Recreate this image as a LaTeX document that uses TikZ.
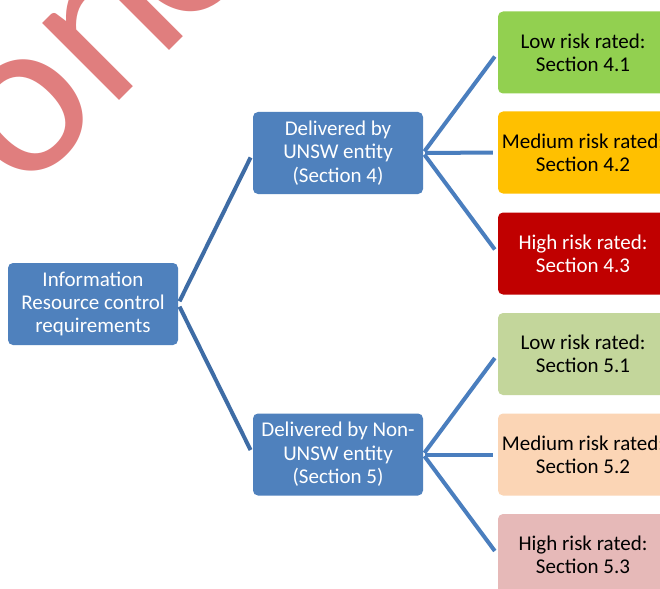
\documentclass[tikz,border=0pt]{standalone}
\usepackage{fontspec}
\setmainfont{Carlito}
\usepackage{tikz}
\usetikzlibrary{positioning}

\definecolor{boxblue}{HTML}{4F81BD}
\definecolor{rootline}{HTML}{3E6CA5}
\definecolor{leafline}{HTML}{4A7EBE}
\definecolor{lowA}{HTML}{92D050}
\definecolor{medA}{HTML}{FFC000}
\definecolor{highA}{HTML}{C00000}
\definecolor{lowB}{HTML}{C3D69B}
\definecolor{medB}{HTML}{FBD5B5}
\definecolor{highB}{HTML}{E6B9B8}
\definecolor{wmark}{HTML}{E07E7E}

\tikzset{
  basebox/.style={rounded corners=5pt, minimum width=170pt, minimum height=82pt,
    inner sep=0pt, align=center, font=\fontsize{21}{23.4}\selectfont},
  mainbox/.style={basebox, fill=boxblue, text=white},
  riskbox/.style={basebox},
  rootlink/.style={rootline, line width=4pt, shorten <=3pt, shorten >=5pt},
  leaflink/.style={leafline, line width=4pt, shorten <=2pt, shorten >=5pt}
}

\begin{document}
\begin{tikzpicture}[x=1pt,y=-1pt]
      \clip (0,0) rectangle (660,588);
      \fill[white] (0,0) rectangle (660,588);
      \node[mainbox] (req) at (93,304) {Information\\Resource control\\requirements};
      \node[mainbox] (unsw) at (338,153) {Delivered by\\UNSW entity\\(Section 4)};
      \node[mainbox] (nonunsw) at (338,454.5) {Delivered by Non-\\UNSW entity\\(Section 5)};
      \foreach \n/\y/\fc/\tc/\lab in {
          la/52.5/lowA/black/{Low risk rated:\\Section 4.1},
          ma/152.5/medA/black/{Medium risk rated:\\Section 4.2},
          ha/253.5/highA/white/{High risk rated:\\Section 4.3},
          lb/354/lowB/black/{Low risk rated:\\Section 5.1},
          mb/454.5/medB/black/{Medium risk rated:\\Section 5.2},
          hb/555/highB/black/{High risk rated:\\Section 5.3}}{
        \node[riskbox, fill=\fc, text=\tc] (\n) at (583,\y) {\lab};
      }
      \draw[rootlink] (req.east) -- (unsw.west);
      \draw[rootlink] (req.east) -- (nonunsw.west);
      \foreach \n in {la,ma,ha}
        \draw[leaflink] (unsw.east) -- (\n.west);
      \foreach \n in {lb,mb,hb}
        \draw[leaflink] (nonunsw.east) -- (\n.west);
      % watermark
      \node[wmark, anchor=base west, inner sep=0pt, rotate=45,
        font=\fontsize{228}{228}\selectfont] (wm) at (23,197) {on\kern-14pt e};
    \end{tikzpicture}
\end{document}
